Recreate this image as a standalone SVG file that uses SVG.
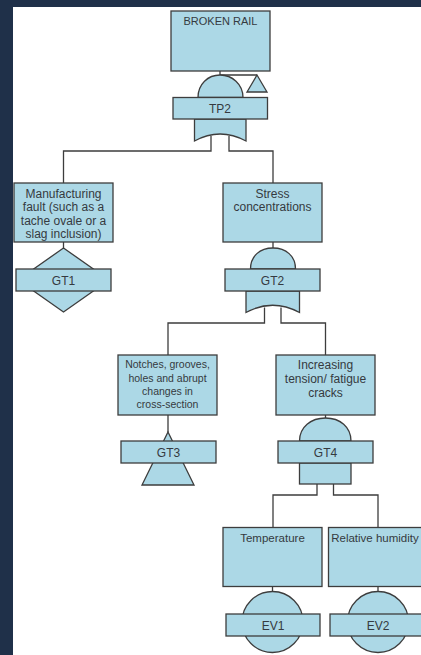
<svg xmlns="http://www.w3.org/2000/svg" width="421" height="655" viewBox="0 0 421 655">
<style>
.s{fill:#acd8e6;stroke:#3d3d3d;stroke-width:1.3}
.c{fill:none;stroke:#3d3d3d;stroke-width:1.3}
text{font-family:"Liberation Sans",Arial,sans-serif;fill:#353a40;text-anchor:middle}
.t12{font-size:12px}
.t115{font-size:11.5px}
.t11{font-size:11px}
.t105{font-size:10.5px}
</style>
<rect x="0" y="0" width="421" height="655" fill="#ffffff"/>
<rect x="0" y="0" width="421" height="7" fill="#1f3049"/>
<rect x="0" y="0" width="13" height="655" fill="#1f3049"/>
<g id="connectors">
<path class="c" d="M220,71 V75 H257"/>
<path class="c" d="M211,136 V151 H63.5 V183"/>
<path class="c" d="M229,136 V151 H273 V183"/>
<path class="c" d="M63.5,242 V248"/>
<path class="c" d="M273,242 V248"/>
<path class="c" d="M264.5,307.5 V323 H168 V355"/>
<path class="c" d="M281,307.5 V323 H325.5 V355"/>
<path class="c" d="M168,415 V432"/>
<path class="c" d="M325.5,415 V418"/>
<path class="c" d="M317,484 V495 H273 V527.5"/>
<path class="c" d="M333.5,484 V495 H378 V527.5"/>
<path class="c" d="M272.5,586.5 V591.5"/>
<path class="c" d="M378,586.5 V591.5"/>
</g>
<g id="broken-rail">
<rect class="s" x="171" y="11" width="99" height="60"/>
<text class="t11" x="220.5" y="25">BROKEN RAIL</text>
</g>
<g id="tp2">
<path class="s" d="M198,97.5 C198,84 208,75 220,75 C232,75 243,84 243,97.5 Z"/>
<polygon class="s" points="257,75 267,92 247,92"/>
<path class="s" d="M194.5,119 V141 Q220,127 246,141 V119 Z"/>
<rect class="s" x="173" y="97.5" width="94.5" height="21.5"/>
<text class="t12" x="220" y="112.5">TP2</text>
</g>
<g id="manufacturing">
<rect class="s" x="14" y="183" width="99" height="59"/>
<text class="t12" x="63.5" y="197.5">Manufacturing</text>
<text class="t12" x="63.5" y="211">fault (such as a</text>
<text class="t12" x="63.5" y="224.5">tache ovale or a</text>
<text class="t12" x="63.5" y="238">slag inclusion)</text>
</g>
<g id="gt1">
<polygon class="s" points="63.5,248 109,280 63.5,312 18,280"/>
<rect class="s" x="16" y="269" width="95" height="22"/>
<text class="t12" x="63.5" y="284.5">GT1</text>
</g>
<g id="stress">
<rect class="s" x="223" y="183" width="99" height="59"/>
<text class="t12" x="272.5" y="197.5">Stress</text>
<text class="t12" x="272.5" y="211">concentrations</text>
</g>
<g id="gt2">
<path class="s" d="M250.5,269 C250.5,256 260,248 273,248 C286,248 295.5,256 295.5,269 Z"/>
<path class="s" d="M246,291 V312.5 Q272.5,298 299.5,312.5 V291 Z"/>
<rect class="s" x="225" y="269" width="95" height="22"/>
<text class="t12" x="272.5" y="284.5">GT2</text>
</g>
<g id="notches">
<rect class="s" x="118" y="355" width="99" height="60"/>
<text class="t105" x="167.5" y="368">Notches, grooves,</text>
<text class="t105" x="167.5" y="381.5">holes and abrupt</text>
<text class="t105" x="167.5" y="395">changes in</text>
<text class="t105" x="167.5" y="407.5">cross-section</text>
</g>
<g id="gt3">
<polygon class="s" points="168,432 194,485 142,485"/>
<rect class="s" x="121" y="441" width="95" height="22"/>
<text class="t12" x="168.5" y="456.5">GT3</text>
</g>
<g id="increasing">
<rect class="s" x="276" y="355" width="99" height="60"/>
<text class="t12" x="325.5" y="369">Increasing</text>
<text class="t12" x="325.5" y="383">tension/ fatigue</text>
<text class="t12" x="325.5" y="396.5">cracks</text>
</g>
<g id="gt4">
<path class="s" d="M299.5,441 C299.5,427 311,418 325.5,418 C340,418 351,427 351,441 Z"/>
<rect class="s" x="299.5" y="463" width="51.5" height="21"/>
<rect class="s" x="278" y="441" width="95" height="22"/>
<text class="t12" x="325.5" y="456.5">GT4</text>
</g>
<g id="temperature">
<rect class="s" x="223" y="527.5" width="99" height="59"/>
<text class="t115" x="272.5" y="541.5">Temperature</text>
</g>
<g id="humidity">
<rect class="s" x="328.5" y="527.5" width="99" height="59"/>
<text class="t115" x="375" y="541.5">Relative humidity</text>
</g>
<g id="ev1">
<circle class="s" cx="272.5" cy="622" r="30.5"/>
<rect class="s" x="226" y="614" width="94" height="22"/>
<text class="t12" x="273" y="629.5">EV1</text>
</g>
<g id="ev2">
<circle class="s" cx="378" cy="622" r="30.5"/>
<rect class="s" x="330" y="614" width="94" height="22"/>
<text class="t12" x="378" y="629.5">EV2</text>
</g>
</svg>
